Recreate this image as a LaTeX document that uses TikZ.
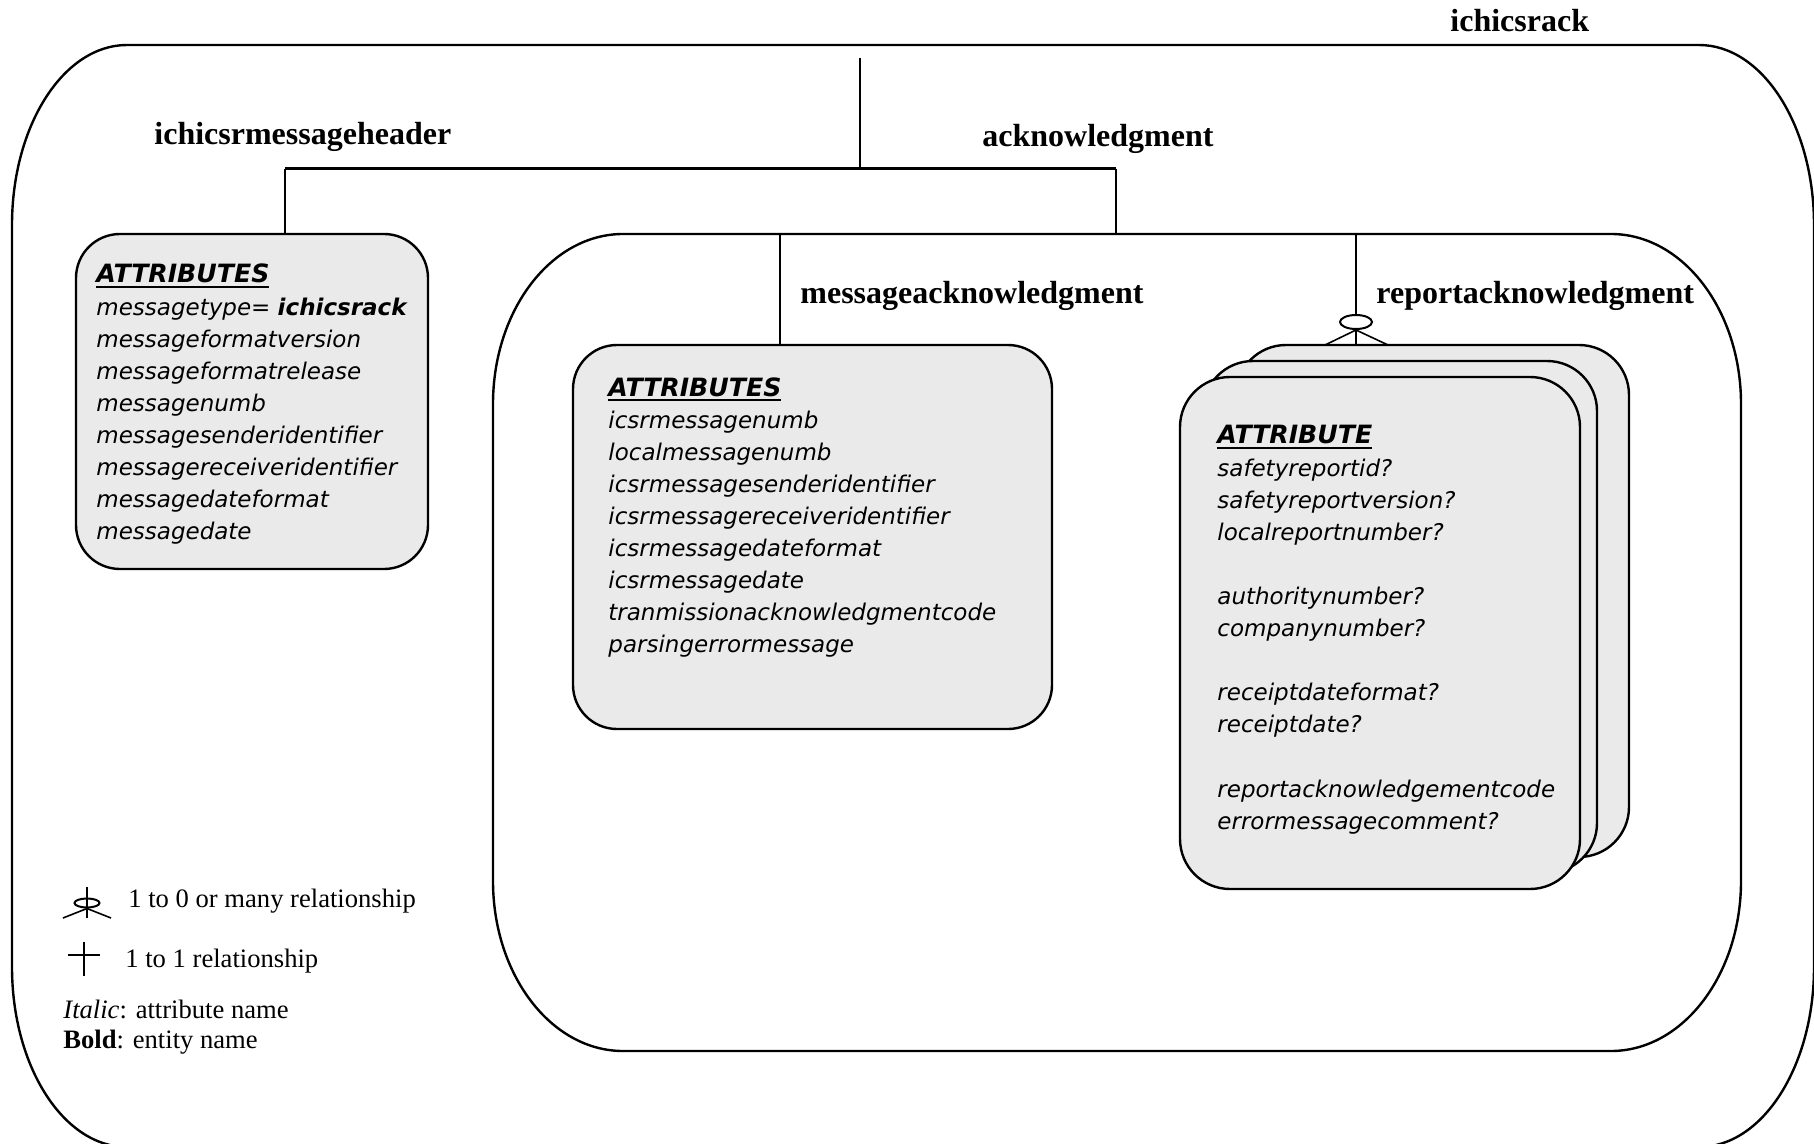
\documentclass[tikz,border=0pt]{standalone}
\usepackage{fontspec}
\setmainfont{Liberation Serif}
\newfontfamily\attrfont{DejaVu Sans}
\usetikzlibrary{fit,shapes.geometric}
\definecolor{boxgray}{RGB}{234,234,234}
% elliptical rounded rectangle: #1 options, (#2,#3) top-left, (#4,#5) bottom-right, #6 rx, #7 ry
\newcommand\ellrect[7]{%
  \draw[#1] ({#2+#6},#3) -- ({#4-#6},#3)
    .. controls ({#4-0.448*#6},#3) and (#4,{#3+0.448*#7}) .. (#4,{#3+#7})
    -- (#4,{#5-#7})
    .. controls (#4,{#5-0.448*#7}) and ({#4-0.448*#6},#5) .. ({#4-#6},#5)
    -- ({#2+#6},#5)
    .. controls ({#2+0.448*#6},#5) and (#2,{#5-0.448*#7}) .. (#2,{#5-#7})
    -- (#2,{#3+#7})
    .. controls (#2,{#3+0.448*#7}) and ({#2+0.448*#6},#3) .. cycle;}
\newcommand\headul[1]{\setbox0\hbox{#1}\leavevmode\rlap{\vrule width\wd0 height -1.6pt depth 2.3pt}\box0}
\tikzset{
  lbl/.style={anchor=base west, inner sep=0, font=\fontsize{16}{19}\selectfont\bfseries},
  attr/.style={anchor=base west, inner sep=0, font=\attrfont\fontsize{11.5}{14}\selectfont\itshape},
  attrhead/.style={anchor=base west, inner sep=0, font=\attrfont\fontsize{12.6}{15}\selectfont\bfseries\itshape},
  leg/.style={anchor=base west, inner sep=0, font=\fontsize{13.3}{16}\selectfont},
  conn/.style={line width=0.8pt},
  bus/.style={line width=1.5pt},
  entity/.style={draw, line width=1.2pt, fill=boxgray, rounded corners=22pt, inner sep=0},
  region/.style={line width=1.2pt},
  hole/.style={draw, ellipse, inner sep=0, line width=1pt, fill=white},
}
\begin{document}
\begin{tikzpicture}[x=0.5pt, y=-0.5pt]
\useasboundingbox (0,0) rectangle (1814,1144);
% outer region
\ellrect{region}{12}{45}{1814}{1147}{115}{180}
\node[lbl] (lroot) at (1450,32) {ichicsrack};
% acknowledgment region
\node[fit={(493,234) (1741,1051)}, inner sep=0] (ack) {};
\ellrect{region}{493}{234}{1741}{1051}{130}{170}
% labels
\node[lbl] (lhdr) at (154,145) {ichicsrmessageheader};
\node[lbl] (lack) at (982,147) {acknowledgment};
\node[lbl] (lmsg) at (800,304) {messageacknowledgment};
\node[lbl] (lrpt) at (1376,304) {reportacknowledgment};
% connector tree
\coordinate (root) at (860,58);
\coordinate (busL) at (285,169);
\coordinate (busM) at (860,169);
\coordinate (busR) at (1116,169);
\draw[conn] (root) -- (busM);
\draw[bus] (busL) -- (busR);
% header entity
\node[entity, fit={(76,234) (428,569)}] (hdr) {};
\draw[conn] (busL) -- (busL |- hdr.north);
\draw[conn] (busR) -- (busR |- ack.north);
% messageacknowledgment entity
\node[entity, fit={(573,345) (1052,729)}] (msg) {};
\coordinate (msgtop) at (780,234);
\draw[conn] (msgtop) -- (msgtop |- msg.north);
% reportacknowledgment stacked entities
\node[entity, fit={(1236,345) (1629,857)}, rounded corners=25pt] (rback) {};
\node[entity, fit={(1203,361) (1597,873)}, rounded corners=25pt] (rmid) {};
\node[entity, fit={(1180,377) (1580,889)}, rounded corners=25pt] (rfront) {};
\coordinate (rpttop) at (1356,234);
\node[hole, minimum width=16pt, minimum height=7pt] (opt) at (1356,322) {};
\coordinate (footL) at (1325,345);
\coordinate (footR) at (1388,345);
\draw[conn] (rpttop) -- (opt.north);
\draw[conn] (opt.south) -- (opt.south |- rback.north);
\draw[conn] (opt.south) -- (footL);
\draw[conn] (opt.south) -- (footR);
% header attributes
\node[attrhead] (h0) at (96,283) {\headul{ATTRIBUTES}};
\foreach \t [count=\i] in {{messagetype= {\bfseries ichicsrack}}, messageformatversion, messageformatrelease, messagenumb, messagesenderidentifier, messagereceiveridentifier, messagedateformat, messagedate}
  \node[attr] (h\i) at (96,{283+32.1*\i}) {\t};
% messageacknowledgment attributes
\node[attrhead] (m0) at (608,396) {\headul{ATTRIBUTES}};
\foreach \t [count=\i] in {icsrmessagenumb, localmessagenumb, icsrmessagesenderidentifier, icsrmessagereceiveridentifier, icsrmessagedateformat, icsrmessagedate, tranmissionacknowledgmentcode, parsingerrormessage}
  \node[attr] (m\i) at (608,{396+32.1*\i}) {\t};
% reportacknowledgment attributes
\node[attrhead] (r0) at (1217,444) {\headul{ATTRIBUTE}};
\foreach \t/\k in {safetyreportid?/1, safetyreportversion?/2, localreportnumber?/3, authoritynumber?/5, companynumber?/6, receiptdateformat?/8, receiptdate?/9, reportacknowledgementcode/11, errormessagecomment?/12}
  \node[attr] (r\k) at (1217,{444+32.1*\k}) {\t};
% legend
\node[hole, minimum width=12.5pt, minimum height=4.5pt, fill=none] (lgopt) at (87,903) {};
\coordinate (lgtop) at (87,887);
\coordinate (lgbot) at (87,918);
\coordinate (lgL) at (63,918);
\coordinate (lgR) at (111,918);
\draw[conn] (lgtop) -- (lgbot);
\draw[conn] (lgopt.south) -- (lgL);
\draw[conn] (lgopt.south) -- (lgR);
\node[leg] (leg1) at (128,907) {1 to 0 or many relationship};
\coordinate (oneL) at (68,955);
\coordinate (oneR) at (100,955);
\coordinate (oneT) at (84,942);
\coordinate (oneB) at (84,976);
\draw[conn] (oneL) -- (oneR);
\draw[conn] (oneT) -- (oneB);
\node[leg] (leg2) at (125,967) {1 to 1 relationship};
\node[leg] (leg3) at (63,1018) {\textit{Italic}: attribute name};
\node[leg] (leg4) at (63,1048) {\textbf{Bold}: entity name};
\end{tikzpicture}
\end{document}
